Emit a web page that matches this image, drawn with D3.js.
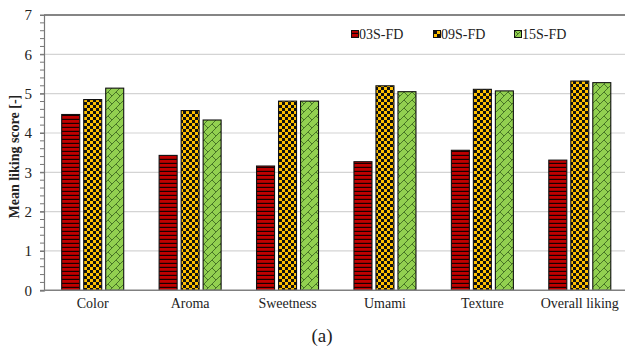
<!DOCTYPE html>
<html>
<head>
<meta charset="utf-8">
<script src="https://cdn.jsdelivr.net/npm/d3@7"></script>
<style>
  html, body { margin: 0; padding: 0; background: #fff; }
  svg { display: block; }
  svg text { font-family: "Times New Roman", "Liberation Serif", Times, serif; fill: #222; }
</style>
</head>
<body>
<svg id="chart" width="625" height="349"></svg>
<script>
// Sensory scores per attribute for the three freeze-dried samples
const categories = ["Color", "Aroma", "Sweetness", "Umami", "Texture", "Overall liking"];
const seriesNames = ["03S-FD", "09S-FD", "15S-FD"];
const s03 = [4.47, 3.43, 3.16, 3.27, 3.56, 3.31];
const s09 = [4.85, 4.57, 4.81, 5.20, 5.11, 5.32];
const s15 = [5.14, 4.33, 4.81, 5.05, 5.07, 5.28];
const yTicks = [0, 1, 2, 3, 4, 5, 6, 7];

const seriesValues = [s03, s09, s15];
const fills = ["url(#pat-stripes)", "url(#pat-checker)", "url(#pat-brick)"];
const serif = "'Times New Roman', 'Liberation Serif', Times, serif";

const svg = d3.select("#chart");
const defs = svg.append("defs");

// horizontal stripes: dark red with thin black lines
const p1 = defs.append("pattern").attr("id", "pat-stripes")
  .attr("patternUnits", "userSpaceOnUse").attr("width", 4).attr("height", 4);
p1.append("rect").attr("width", 4).attr("height", 4).attr("fill", "#c00000");
p1.append("rect").attr("y", 2.8).attr("width", 4).attr("height", 1.2).attr("fill", "#1a0000");

// checkerboard: gold and black
const p2 = defs.append("pattern").attr("id", "pat-checker")
  .attr("patternUnits", "userSpaceOnUse").attr("width", 6).attr("height", 6);
p2.append("rect").attr("width", 6).attr("height", 6).attr("fill", "#ffc000");
p2.append("rect").attr("width", 3).attr("height", 3).attr("fill", "#111");
p2.append("rect").attr("x", 3).attr("y", 3).attr("width", 3).attr("height", 3).attr("fill", "#111");

// diagonal brick: light green with darker green strokes
const p3 = defs.append("pattern").attr("id", "pat-brick")
  .attr("patternUnits", "userSpaceOnUse").attr("width", 8).attr("height", 8);
p3.append("rect").attr("width", 8).attr("height", 8).attr("fill", "#92d050");
p3.append("path").attr("d", "M-1,9 L9,-1 M4,4 L8,8")
  .attr("stroke", "#3f6b22").attr("stroke-width", 0.9).attr("fill", "none");

const margin = { left: 44, right: 628.5, top: 15, bottom: 290.3 };

const x = d3.scaleBand().domain(categories).range([margin.left, margin.right]).padding(0);
const xs = d3.scaleBand().domain(seriesNames).range([-31, 31]).paddingInner(4 / 22).paddingOuter(0);
const y = d3.scaleLinear().domain([0, 7]).range([margin.bottom, margin.top]);

// gridlines
svg.append("g").selectAll("line").data(yTicks.filter(d => d > 0 && d < 7)).join("line")
  .attr("x1", margin.left).attr("x2", 625)
  .attr("y1", d => y(d)).attr("y2", d => y(d))
  .attr("stroke", "#d4d4d4").attr("stroke-width", 1.2);

// top border line
svg.append("line").attr("x1", margin.left).attr("x2", 625)
  .attr("y1", y(7)).attr("y2", y(7)).attr("stroke", "#858585").attr("stroke-width", 1.8);

// bars
seriesNames.forEach((name, si) => {
  svg.append("g").selectAll("rect").data(categories).join("rect")
    .attr("x", (c) => x(c) + x.bandwidth() / 2 + xs(name))
    .attr("width", xs.bandwidth())
    .attr("y", (c, i) => y(seriesValues[si][i]))
    .attr("height", (c, i) => y(0) - y(seriesValues[si][i]))
    .attr("fill", fills[si])
    .attr("stroke", "#111").attr("stroke-width", 1.1);
});

// y axis with minor ticks
const yAxisG = svg.append("g").attr("transform", `translate(${margin.left},0)`);
const minor = d3.range(0, 7.001, 0.2);
yAxisG.selectAll("line.minor").data(minor).join("line").attr("class", "minor")
  .attr("x1", -4).attr("x2", 0)
  .attr("y1", d => y(d)).attr("y2", d => y(d))
  .attr("stroke", "#777").attr("stroke-width", 1);
const yAxis = d3.axisLeft(y).tickValues(yTicks).tickSize(4).tickPadding(8).tickFormat(d3.format("d"));
yAxisG.call(yAxis).attr("font-family", serif);
yAxisG.select(".domain").attr("stroke", "#777").attr("stroke-width", 1.2);
yAxisG.selectAll(".tick line").attr("stroke", "#777");
yAxisG.selectAll(".tick text")
  .attr("font-family", serif).style("font-size", "15px").attr("fill", "#222");

// x axis
const xAxisG = svg.append("g").attr("transform", `translate(0,${margin.bottom})`);
xAxisG.call(d3.axisBottom(x).tickSize(0).tickPadding(8)).attr("font-family", serif);
xAxisG.select(".domain").attr("stroke", "#808080").attr("stroke-width", 1.6).attr("d", `M${margin.left},0H625`);
xAxisG.selectAll(".tick text")
  .attr("font-family", serif).style("font-size", "14px").attr("fill", "#222");

// y axis title
svg.append("text")
  .attr("transform", `translate(19,${(margin.top + margin.bottom) / 2 + 4}) rotate(-90)`)
  .attr("text-anchor", "middle")
  .style("font-size", "14px").style("font-weight", "bold")
  .text("Mean liking score [-]");

// legend
const legendX = [355, 437, 518];
const legend = svg.append("g");
seriesNames.forEach((name, i) => {
  const g = legend.append("g").attr("transform", `translate(${legendX[i]},34)`);
  g.append("rect").attr("x", -3.5).attr("y", -3.5).attr("width", 7).attr("height", 7)
    .attr("fill", fills[i]).attr("stroke", "#111").attr("stroke-width", 1);
  g.append("text").attr("x", 4).attr("y", 4.5)
    .style("font-size", "14px").text(name);
});

// panel label
svg.append("text").attr("x", 322).attr("y", 342).attr("text-anchor", "middle")
  .style("font-size", "19px").text("(a)");
</script>
</body>
</html>
